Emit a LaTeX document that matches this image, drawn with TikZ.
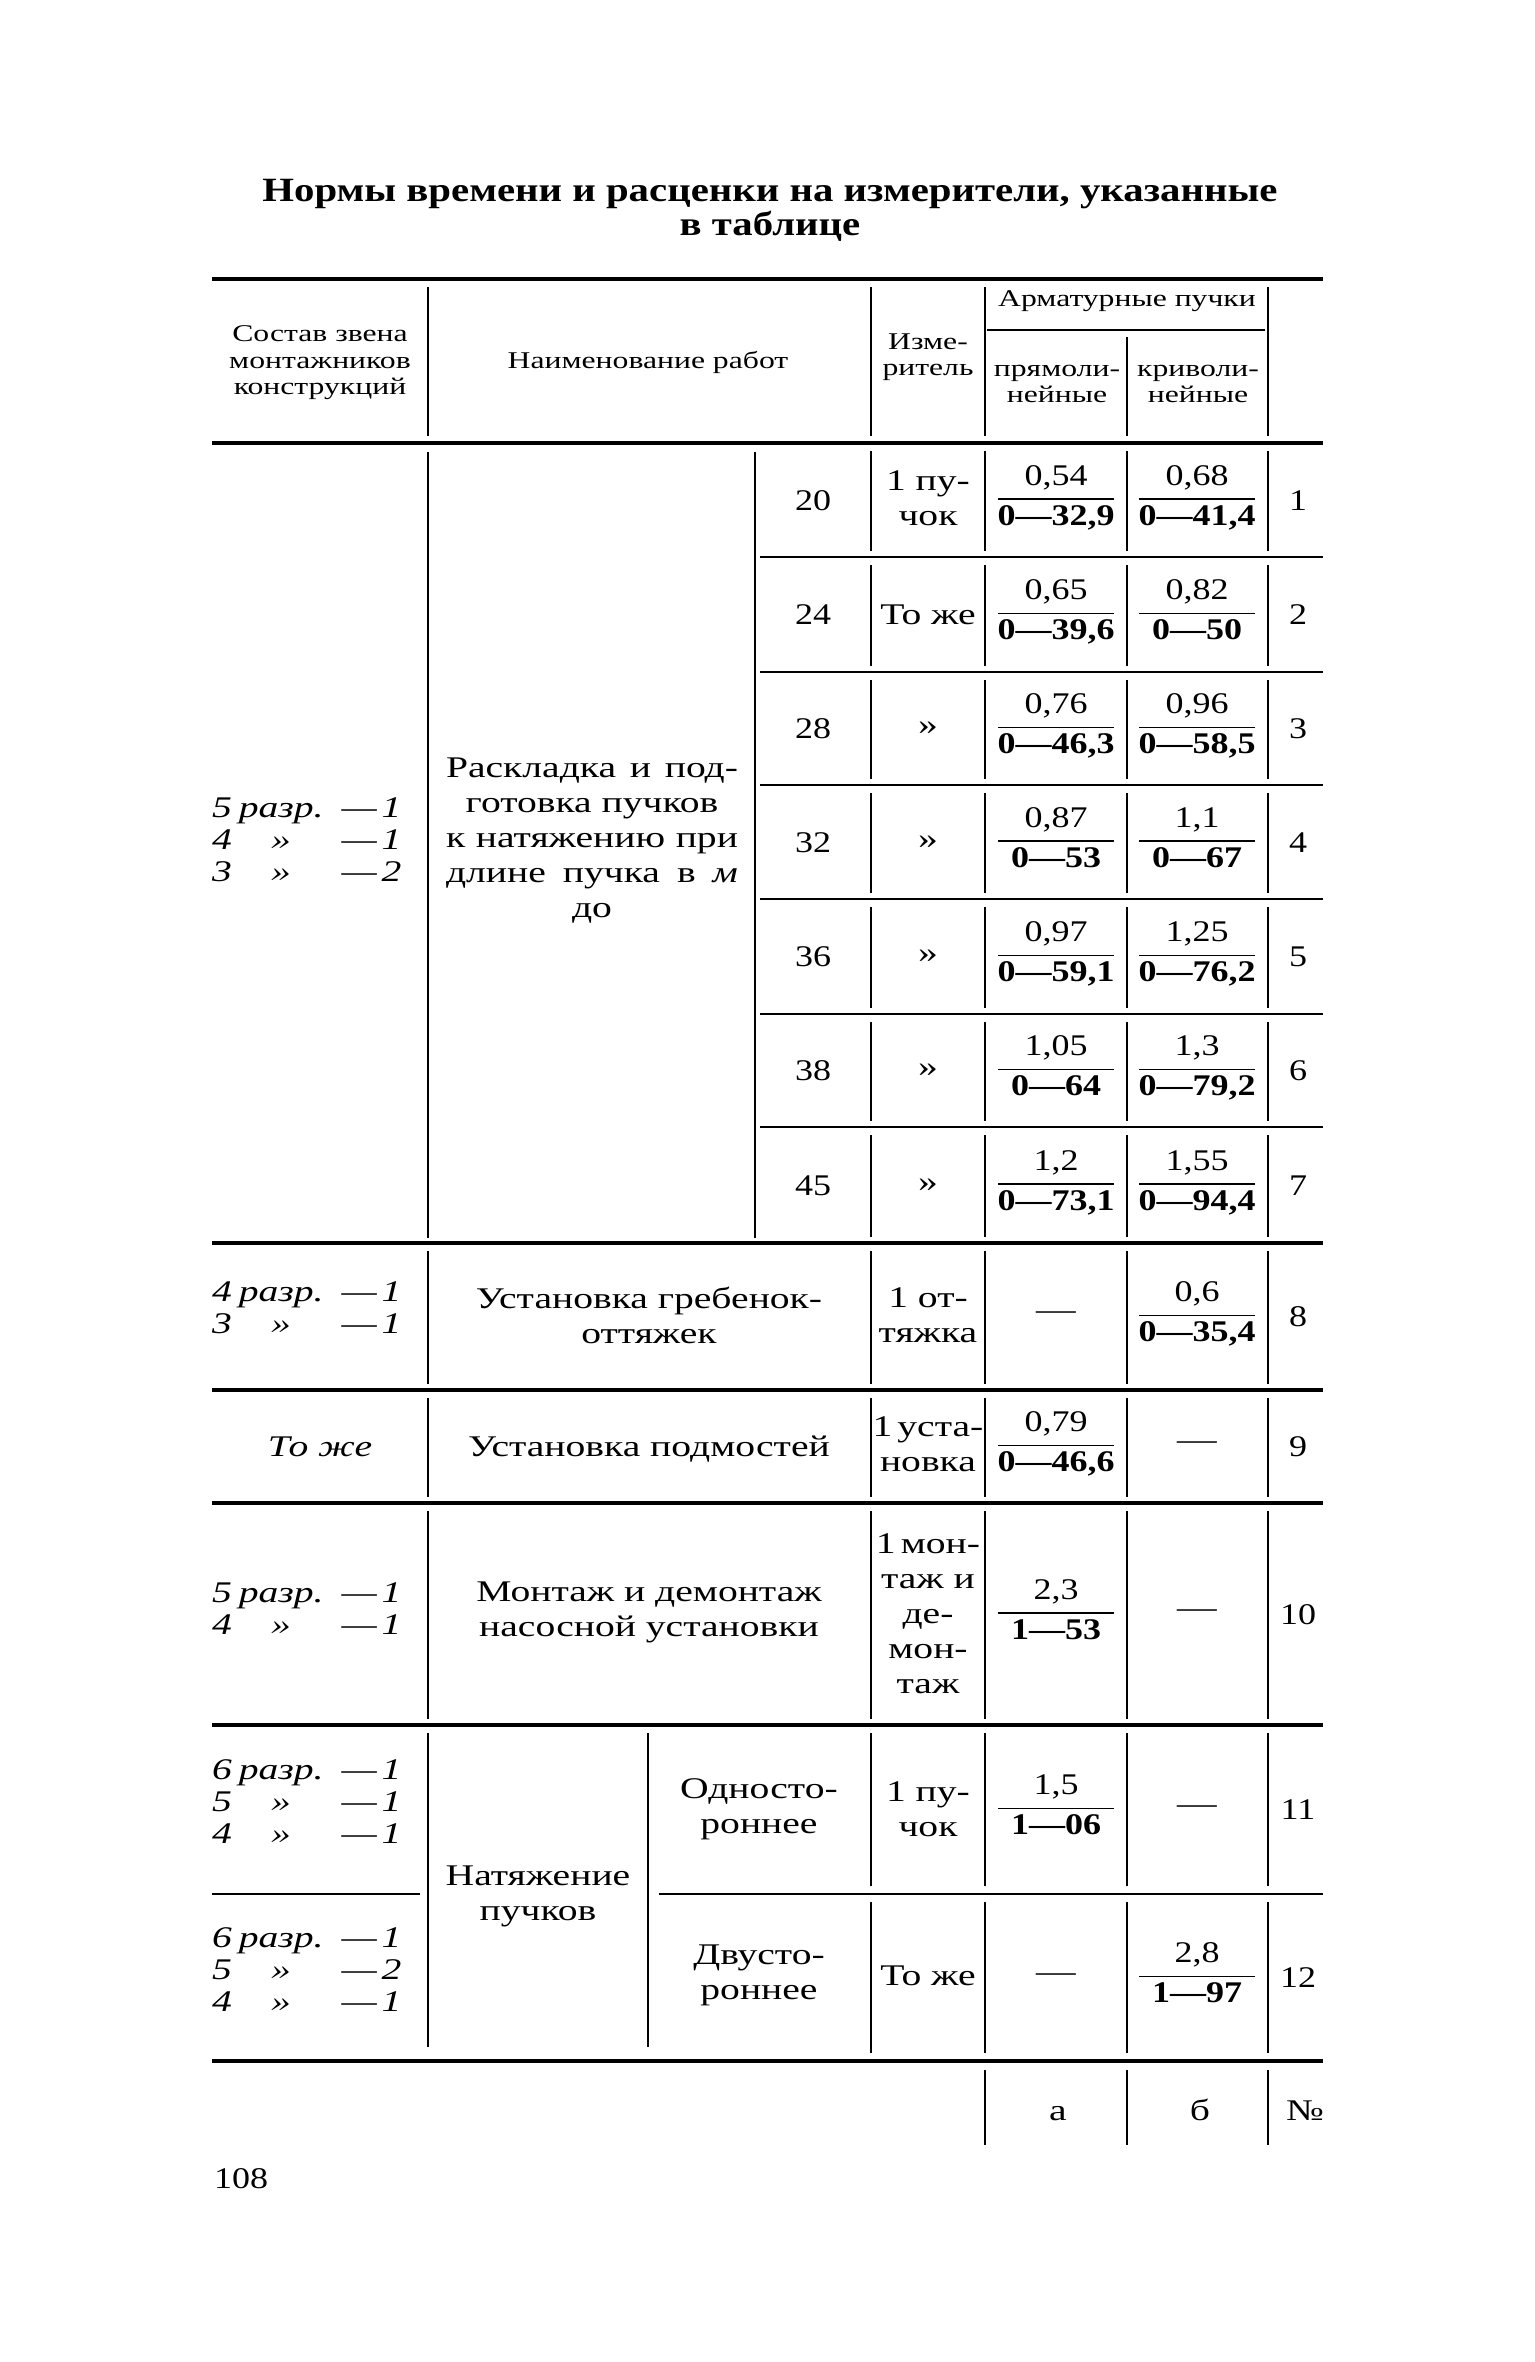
\documentclass[tikz,border=0pt]{standalone}
\usepackage{fontspec}
\setmainfont{Liberation Serif}[FakeStretch=1.32]
\newfontfamily\numfont{Liberation Serif}[FakeStretch=1.2]
\newcommand\frc[5]{%
  \node[numer] (#1n) at (#2,#3-15) {#4};
  \node[denom] (#1d) at (#2,#3+25) {#5};
  \draw[frac rule] (#2-58,#3-1) -- (#2+58,#3-1);}
\newcommand\crew[1]{\itshape\begin{tabular}{@{}l@{\hspace{3.5pt}}c@{\hspace{9pt}}r@{}}#1\end{tabular}}
\begin{document}
\begin{tikzpicture}[x=0.5pt,y=-0.5pt,
  every node/.style={inner sep=0pt,outer sep=0pt},
  body/.style={font=\fontsize{15}{17.5}\selectfont,align=center},
  digits/.style={font=\numfont\fontsize{15}{17.5}\selectfont,anchor=base},
  small/.style={font=\fontsize{12}{13.2}\selectfont,align=center},
  numer/.style={font=\numfont\fontsize{15}{17.5}\selectfont,anchor=base},
  denom/.style={font=\numfont\fontsize{15}{17.5}\selectfont\bfseries,anchor=base},
  crewtext/.style={font=\fontsize{15}{16}\selectfont,anchor=west},
  heavy/.style={line width=1.6pt},
  medium/.style={line width=1.2pt},
  thinv/.style={line width=0.6pt},
  frac rule/.style={line width=0.9pt},
]
\useasboundingbox (0,0) rectangle (1535,2362);
\fill[white] (0,0) rectangle (1535,2362);

% ---------- title ----------
\node[font=\numfont\fontsize{17}{17}\selectfont\bfseries,align=center] (title) at (770,210)
  {Нормы времени и расценки на измерители, указанные\\в таблице};

% ---------- horizontal rules ----------
\draw[heavy] (212,279) -- (1323,279);
\draw[medium] (987,330) -- (1265,330);
\draw[heavy] (212,443) -- (1323,443);
\foreach \y in {557,672,785,899,1014,1127} \draw[medium] (760,\y) -- (1323,\y);
\foreach \y in {1243,1390,1503,1725} \draw[heavy] (212,\y) -- (1323,\y);
\draw[medium] (212,1894) -- (420,1894);
\draw[medium] (659,1894) -- (1323,1894);
\draw[heavy] (212,2061) -- (1323,2061);

% ---------- vertical rules ----------
% header
\foreach \x in {428,871,985,1268} \draw[thinv] (\x,287) -- (\x,436);
\draw[thinv] (1127,337) -- (1127,436);
% group rows 1-7
\foreach \x in {428,755} \draw[thinv] (\x,452) -- (\x,1238);
\foreach \a/\b in {443/557,557/672,672/785,785/899,899/1014,1014/1127,1127/1243}
  \foreach \x in {871,985,1127,1268} \draw[thinv] (\x,\a+8) -- (\x,\b-6);
% rows 8-10
\foreach \a/\b in {1243/1390,1390/1503,1503/1725}
  \foreach \x in {428,871,985,1127,1268} \draw[thinv] (\x,\a+8) -- (\x,\b-6);
% rows 11-12
\foreach \x in {428,648} \draw[thinv] (\x,1733) -- (\x,2047);
\foreach \a/\b in {1725/1894,1894/2061}
  \foreach \x in {871,985,1127,1268} \draw[thinv] (\x,\a+8) -- (\x,\b-8);
% footer
\foreach \x in {985,1127,1268} \draw[thinv] (\x,2070) -- (\x,2145);

% ---------- header texts ----------
\node[small] (hcrew) at (320,363) {Состав звена\\монтажников\\конструкций};
\node[small] (hwork) at (648,362) {Наименование работ};
\node[small] (hmeas) at (928,357) {Изме-\\ритель};
\node[small] (harm) at (1127,301) {Арматурные пучки};
\node[small] (hstr) at (1057,384) {прямоли-\\нейные};
\node[small] (hcur) at (1198,384) {криволи-\\нейные};

% ---------- group rows 1-7 ----------
\node[crewtext] (crew1) at (212,843) {\crew{5 & разр. & —\,1\\ 4 & » & —\,1\\ 3 & » & —\,2}};
\node[body] (work1) at (592,841) {\makebox[146pt][s]{Раскладка и под-}\\готовка пучков\\\makebox[146pt][s]{к натяжению при}\\\makebox[146pt][s]{длине пучка в \textit{м}}\\до};

\foreach \c/\L/\n in {500/20/1,614.5/24/2,728.5/28/3,842/32/4,956.5/36/5,1070.5/38/6,1185/45/7}{
  \node[digits] (len\n) at (813,\c+10) {\L};
  \node[digits] (no\n) at (1298,\c+10) {\n};
}
\node[body] (m1) at (928,498) {1 пу-\\чок};
\node[body,anchor=base] (m2) at (928,624.5) {То же};
\foreach \c/\n in {728.5/3,842/4,956.5/5,1070.5/6,1185/7}
  \node[body] (m\n) at (928,\c) {»};

\frc{a1}{1056}{500}{0,54}{0—32,9}
\frc{b1}{1197}{500}{0,68}{0—41,4}
\frc{a2}{1056}{614.5}{0,65}{0—39,6}
\frc{b2}{1197}{614.5}{0,82}{0—50}
\frc{a3}{1056}{728.5}{0,76}{0—46,3}
\frc{b3}{1197}{728.5}{0,96}{0—58,5}
\frc{a4}{1056}{842}{0,87}{0—53}
\frc{b4}{1197}{842}{1,1}{0—67}
\frc{a5}{1056}{956.5}{0,97}{0—59,1}
\frc{b5}{1197}{956.5}{1,25}{0—76,2}
\frc{a6}{1056}{1070.5}{1,05}{0—64}
\frc{b6}{1197}{1070.5}{1,3}{0—79,2}
\frc{a7}{1056}{1185}{1,2}{0—73,1}
\frc{b7}{1197}{1185}{1,55}{0—94,4}

% ---------- row 8 ----------
\node[crewtext] (crew8) at (212,1311) {\crew{4 & разр. & —\,1\\ 3 & » & —\,1}};
\node[body] (work8) at (649,1315) {Установка гребенок-\\оттяжек};
\node[body] (m8) at (928,1315) {1 от-\\тяжка};
\node[body] (a8) at (1056,1316) {—};
\frc{b8}{1197}{1316.5}{0,6}{0—35,4}
\node[digits] (no8) at (1298,1326) {8};

% ---------- row 9 ----------
\node[body,anchor=base,font=\fontsize{15}{17.5}\selectfont\itshape] (crew9) at (320,1456) {То же};
\node[body,anchor=base] (work9) at (649,1456) {Установка подмостей};
\node[body] (m9) at (928,1444) {1\,уста-\\новка};
\frc{a9}{1056}{1446.5}{0,79}{0—46,6}
\node[body] (b9) at (1197,1446) {—};
\node[digits] (no9) at (1298,1456) {9};

% ---------- row 10 ----------
\node[crewtext] (crew10) at (212,1612) {\crew{5 & разр. & —\,1\\ 4 & » & —\,1}};
\node[body] (work10) at (649,1612) {Монтаж и демонтаж\\насосной установки};
\node[body] (m10) at (928,1614) {1\,мон-\\таж и\\де-\\мон-\\таж};
\frc{a10}{1056}{1614}{2,3}{1—53}
\node[body] (b10) at (1197,1614) {—};
\node[digits] (no10) at (1298,1624) {10};

% ---------- rows 11-12 ----------
\node[body] (work11) at (538,1896) {Натяжение\\пучков};
\node[crewtext] (crew11) at (212,1805) {\crew{6 & разр. & —\,1\\ 5 & » & —\,1\\ 4 & » & —\,1}};
\node[body] (sub11) at (759,1809) {Односто-\\роннее};
\node[body] (m11) at (928,1809) {1 пу-\\чок};
\frc{a11}{1056}{1809.5}{1,5}{1—06}
\node[body] (b11) at (1197,1809.5) {—};
\node[digits] (no11) at (1298,1819.5) {11};

\node[crewtext] (crew12) at (212,1973) {\crew{6 & разр. & —\,1\\ 5 & » & —\,2\\ 4 & » & —\,1}};
\node[body] (sub12) at (759,1975) {Двусто-\\роннее};
\node[body,anchor=base] (m12) at (928,1985) {То же};
\node[body] (a12) at (1056,1977.5) {—};
\frc{b12}{1197}{1977.5}{2,8}{1—97}
\node[digits] (no12) at (1298,1987.5) {12};

% ---------- footer ----------
\node[body,anchor=base] (fa) at (1058,2120) {а};
\node[body,anchor=base] (fb) at (1200,2120) {б};
\node[body,anchor=base] (fno) at (1305,2120) {№};
\node[digits,anchor=base west] (page) at (214,2188) {108};
\end{tikzpicture}
\end{document}
